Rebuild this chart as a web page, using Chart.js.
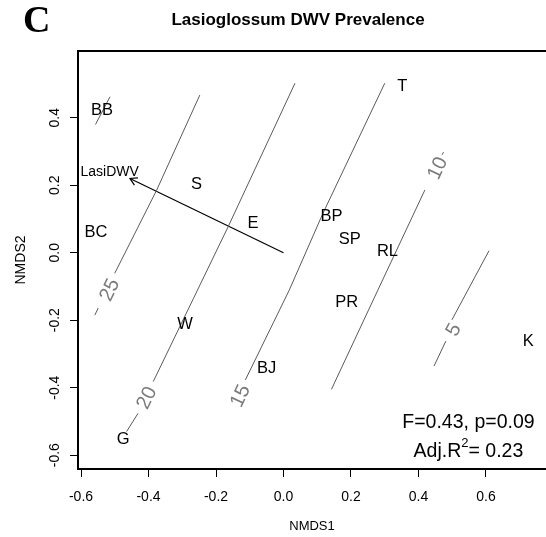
<!DOCTYPE html>
<html>
<head>
<meta charset="utf-8">
<script src="https://cdn.jsdelivr.net/npm/chart.js@4.4.1/dist/chart.umd.min.js"></script>
<style>
  html, body { margin: 0; padding: 0; background: #fff; overflow: hidden; }
  #wrap { width: 546px; height: 537px; position: relative; }
</style>
</head>
<body>
<div id="wrap"><canvas id="NmdsChart"></canvas></div>
<script>
// site scores (NMDS1, NMDS2)
var siteNames = ['BB', 'BC', 'S', 'E', 'W', 'G', 'BJ', 'T', 'BP', 'SP', 'RL', 'PR', 'K'];
var siteX = [-0.538, -0.556, -0.258, -0.090, -0.292, -0.475, -0.050, 0.352, 0.142, 0.196, 0.308, 0.187, 0.725];
var siteY = [0.423, 0.064, 0.206, 0.090, -0.209, -0.550, -0.340, 0.495, 0.110, 0.041, 0.008, -0.143, -0.259];

// envfit arrow for LasiDWV
var arrowName = 'LasiDWV';
var arrowX = [0, -0.455];
var arrowY = [0, 0.220];
var arrowLabelPos = [-0.515, 0.240];

// ordisurf contour pieces, broken where the level labels sit
var contour30 = [[-0.557, 0.380], [-0.514, 0.462]];
var contour25a = [[-0.500, -0.061], [-0.376, 0.185], [-0.248, 0.467]];
var contour25b = [[-0.559, -0.185], [-0.549, -0.164]];
var contour20a = [[-0.386, -0.382], [-0.164, 0.077], [0.034, 0.502]];
var contour20b = [[-0.465, -0.530], [-0.431, -0.476]];
var contour15 = [[-0.113, -0.377], [0.017, -0.111], [0.117, 0.117], [0.300, 0.502]];
var contour10a = [[0.142, -0.405], [0.280, -0.110], [0.419, 0.186]];
var contour10b = [[0.470, 0.290], [0.474, 0.298]];
var contour5a = [[0.499, -0.199], [0.609, 0.006]];
var contour5b = [[0.446, -0.336], [0.481, -0.262]];

var contourPieces = [contour30, contour25a, contour25b, contour20a, contour20b,
  contour15, contour10a, contour10b, contour5a, contour5b];

var contourLabelText = ['25', '20', '15', '10', '5'];
var contourLabelX = [-0.514, -0.404, -0.127, 0.458, 0.505];
var contourLabelY = [-0.111, -0.431, -0.425, 0.250, -0.229];
var contourLabelPiece = [1, 3, 5, 6, 8];

var xTicks = [-0.6, -0.4, -0.2, 0.0, 0.2, 0.4, 0.6];
var yTicks = [-0.6, -0.4, -0.2, 0.0, 0.2, 0.4];

var statLine1 = 'F=0.43, p=0.09';
var statLine2 = ['Adj.R', '2', '= 0.23'];
var statPos = [0.548, -0.503, -0.589];

var FONT = '"Liberation Sans", Arial, sans-serif';

function toPts(arr) {
  return arr.map(function (p) { return { x: p[0], y: p[1] }; });
}

var datasets = contourPieces.map(function (piece) {
  return {
    data: toPts(piece),
    showLine: true,
    borderColor: '#5a5a5a',
    borderWidth: 1,
    pointRadius: 0,
    fill: false
  };
});

datasets.push({
  data: arrowX.map(function (v, i) { return { x: v, y: arrowY[i] }; }),
  showLine: true,
  borderColor: '#000000',
  borderWidth: 1.2,
  pointRadius: 0,
  fill: false
});

datasets.push({
  data: siteX.map(function (v, i) { return { x: v, y: siteY[i] }; }),
  showLine: false,
  pointRadius: 0
});

function fmt(v) {
  if (Math.abs(v) < 1e-9) return '0.0';
  return v.toFixed(1);
}

var rExtras = {
  id: 'rExtras',
  afterDatasetsDraw: function (chart) {
    var ctx = chart.ctx;
    var xs = chart.scales.x, ys = chart.scales.y, area = chart.chartArea;
    ctx.save();

    // top edge of the box
    ctx.strokeStyle = '#000';
    ctx.lineWidth = 2;
    ctx.beginPath();
    ctx.moveTo(area.left - 1, area.top);
    ctx.lineTo(area.right, area.top);
    ctx.stroke();

    // contour level labels, rotated along the line
    ctx.fillStyle = '#7a7a7a';
    ctx.font = '20px ' + FONT;
    ctx.textAlign = 'center';
    ctx.textBaseline = 'middle';
    contourLabelText.forEach(function (txt, i) {
      var piece = contourPieces[contourLabelPiece[i]];
      var a = piece[0], b = piece[piece.length - 1];
      var ang = Math.atan2(ys.getPixelForValue(b[1]) - ys.getPixelForValue(a[1]),
        xs.getPixelForValue(b[0]) - xs.getPixelForValue(a[0]));
      ctx.save();
      ctx.translate(xs.getPixelForValue(contourLabelX[i]), ys.getPixelForValue(contourLabelY[i]));
      ctx.rotate(ang);
      ctx.fillText(txt, 0, 0);
      ctx.restore();
    });

    // arrow head
    var x0 = xs.getPixelForValue(arrowX[0]), y0 = ys.getPixelForValue(arrowY[0]);
    var x1 = xs.getPixelForValue(arrowX[1]), y1 = ys.getPixelForValue(arrowY[1]);
    var ang = Math.atan2(y1 - y0, x1 - x0);
    var hl = 8;
    ctx.strokeStyle = '#000';
    ctx.lineWidth = 1.2;
    ctx.beginPath();
    ctx.moveTo(x1 - hl * Math.cos(ang - Math.PI / 6), y1 - hl * Math.sin(ang - Math.PI / 6));
    ctx.lineTo(x1, y1);
    ctx.lineTo(x1 - hl * Math.cos(ang + Math.PI / 6), y1 - hl * Math.sin(ang + Math.PI / 6));
    ctx.stroke();

    ctx.fillStyle = '#000';
    ctx.font = '14px ' + FONT;
    ctx.fillText(arrowName, xs.getPixelForValue(arrowLabelPos[0]), ys.getPixelForValue(arrowLabelPos[1]));

    // site labels
    var meta = chart.getDatasetMeta(chart.data.datasets.length - 1);
    ctx.font = '16.5px ' + FONT;
    meta.data.forEach(function (pt, i) {
      ctx.fillText(siteNames[i], pt.x, pt.y + 1);
    });

    // fit statistics
    var sx = xs.getPixelForValue(statPos[0]);
    ctx.font = '19.5px ' + FONT;
    ctx.fillText(statLine1, sx, ys.getPixelForValue(statPos[1]));
    var w0 = ctx.measureText(statLine2[0]).width;
    var w2 = ctx.measureText(statLine2[2]).width;
    ctx.font = '13px ' + FONT;
    var w1 = ctx.measureText(statLine2[1]).width;
    var sy = ys.getPixelForValue(statPos[2]);
    var left = sx - (w0 + w1 + w2) / 2;
    ctx.textAlign = 'left';
    ctx.font = '19.5px ' + FONT;
    ctx.fillText(statLine2[0], left, sy);
    ctx.fillText(statLine2[2], left + w0 + w1, sy);
    ctx.font = '13px ' + FONT;
    ctx.fillText(statLine2[1], left + w0, sy - 8);

    // panel letter and main title
    ctx.textAlign = 'center';
    ctx.font = 'bold 17px ' + FONT;
    ctx.fillText('Lasioglossum DWV Prevalence', 298, 20);
    ctx.textAlign = 'left';
    ctx.textBaseline = 'alphabetic';
    ctx.font = 'bold 38px "Liberation Serif", "Times New Roman", serif';
    ctx.fillText('C', 23, 32);

    ctx.restore();
  }
};

var ctx = document.getElementById('NmdsChart');
var config = {
  type: 'scatter',
  data: { datasets: datasets },
  options: {
    responsive: true,
    maintainAspectRatio: false,
    animation: false,
    layout: { padding: { left: 0, top: 51, right: 0, bottom: 0 } },
    plugins: {
      legend: { display: false },
      tooltip: { enabled: false },
      title: { display: false }
    },
    scales: {
      x: {
        type: 'linear',
        min: -0.6089,
        max: 0.7778,
        afterFit: function (s) { s.height = 68; },
        afterBuildTicks: function (s) { s.ticks = xTicks.map(function (v) { return { value: v }; }); },
        grid: { drawOnChartArea: false, drawTicks: true, tickLength: 8, color: '#000', lineWidth: 1 },
        border: { display: true, color: '#000', width: 2 },
        ticks: {
          includeBounds: false,
          autoSkip: false,
          maxRotation: 0,
          padding: 12,
          color: '#000',
          font: { family: FONT, size: 14 },
          callback: function (v) { return fmt(v); }
        },
        title: {
          display: true,
          text: 'NMDS1',
          color: '#000',
          font: { family: FONT, size: 13 },
          padding: { top: 0, bottom: 3 }
        }
      },
      y: {
        type: 'linear',
        min: -0.6409,
        max: 0.5976,
        afterFit: function (s) { s.width = 78; },
        afterBuildTicks: function (s) { s.ticks = yTicks.map(function (v) { return { value: v }; }); },
        grid: { drawOnChartArea: false, drawTicks: true, tickLength: 8, color: '#000', lineWidth: 1 },
        border: { display: true, color: '#000', width: 2 },
        ticks: {
          includeBounds: false,
          autoSkip: false,
          minRotation: 90,
          maxRotation: 90,
          crossAlign: 'center',
          padding: 3,
          color: '#000',
          font: { family: FONT, size: 14 },
          callback: function (v) { return fmt(v); }
        },
        title: {
          display: true,
          text: 'NMDS2',
          color: '#000',
          font: { family: FONT, size: 14 },
          padding: { top: 13, bottom: 0 }
        }
      }
    }
  },
  plugins: [rExtras]
};
var nmdsChart = new Chart(ctx, config);
</script>
</body>
</html>
